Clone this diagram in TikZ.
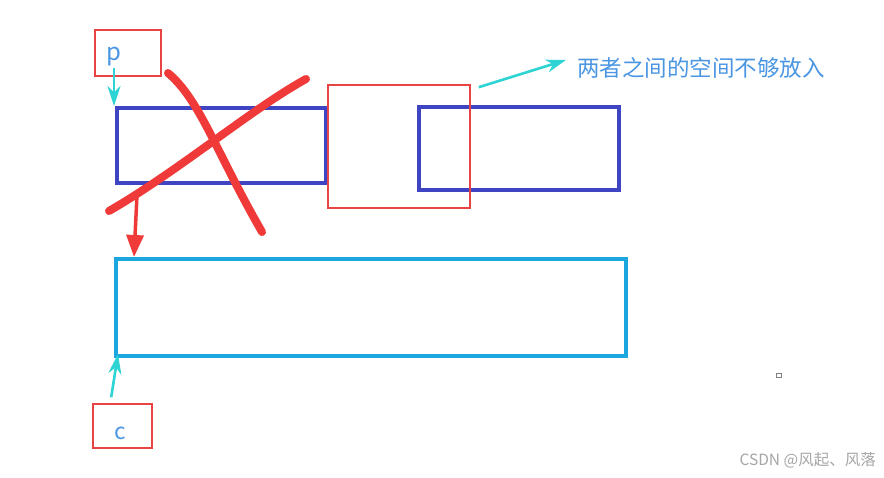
\documentclass[tikz,border=0pt]{standalone}
\usepackage{fontspec}
\setmainfont{Noto Sans CJK SC}
\usetikzlibrary{arrows.meta,calc}
\definecolor{boxred}{HTML}{E84444}
\definecolor{darkblue}{HTML}{3F45C2}
\definecolor{lightblue}{HTML}{1BA6DE}
\definecolor{teal}{HTML}{2ED3D3}
\definecolor{txtblue}{HTML}{4A96E2}
\definecolor{pen}{HTML}{F03A3A}
\tikzset{
  redbox/.style={draw=boxred, line width=1.6pt, inner sep=0pt},
  memblock/.style={line width=3.2pt, inner sep=0pt},
  tealarrow/.style={draw=teal, line width=2.6pt, -{Stealth[length=20pt,width=13pt]}},
  penline/.style={draw=pen, line width=8pt, line cap=round},
  label/.style={text=txtblue, inner sep=0pt, font=\fontsize{22.5}{26}\selectfont}
}
\begin{document}
\begin{tikzpicture}[x=1pt,y=-1pt]
\useasboundingbox (0,0) rectangle (884,477);
\fill[white] (0,0) rectangle (884,477);
% blocks
\draw[memblock, draw=darkblue] (117,108) rectangle (326,183);
\draw[memblock, draw=darkblue] (419,107) rectangle (619,190);
\draw[memblock, draw=lightblue] (116,259) rectangle (626,356);
\coordinate (b1) at (114,106);
\coordinate (b3) at (134,257);
\coordinate (b3c) at (118,354);
% middle red box
\node[redbox, minimum width=142pt, minimum height=123pt] (gap) at (399,146.5) {};
% p box
\node[redbox, minimum width=66pt, minimum height=46pt] (pbox) at (128,53) {};
\node[label, anchor=base, font=\fontsize{24}{28}\selectfont] (p) at (114,60) {p};
% c box
\node[redbox, minimum width=59pt, minimum height=44pt] (cbox) at (122.5,426) {};
\node[label, anchor=base] (c) at (120,439) {c};
% label text
\node[label, anchor=west] (note) at (577,68) {两者之间的空间不够放入};
% teal arrows
\draw[tealarrow] ($(p.south)+(0,2)$) -- (b1);
\draw[tealarrow] ($(cbox.north west)+(19,-6)$) -- (b3c);
\draw[tealarrow] ($(gap.north east)+(8,3)$) -- ($(note.west)+(-11,-8)$);
% red cross
\draw[penline] (168,73) .. controls (200,100) and (215,150) .. (262,232);
\draw[penline] (109,211) .. controls (180,170) and (250,110) .. (306,79);
% red arrow
\coordinate (a0) at (137,195);
\draw[draw=pen, line width=3.5pt, -{Triangle[length=22pt,width=17pt]}] (a0) -- (b3);
% small mark
\draw[gray, line width=1pt] (776,373) rectangle (781,377);
% watermark
\node[text=gray!70, anchor=east, inner sep=0pt, font=\fontsize{15.5}{18}\selectfont] (wm) at (876,460) {CSDN @风起、风落};
\end{tikzpicture}
\end{document}
